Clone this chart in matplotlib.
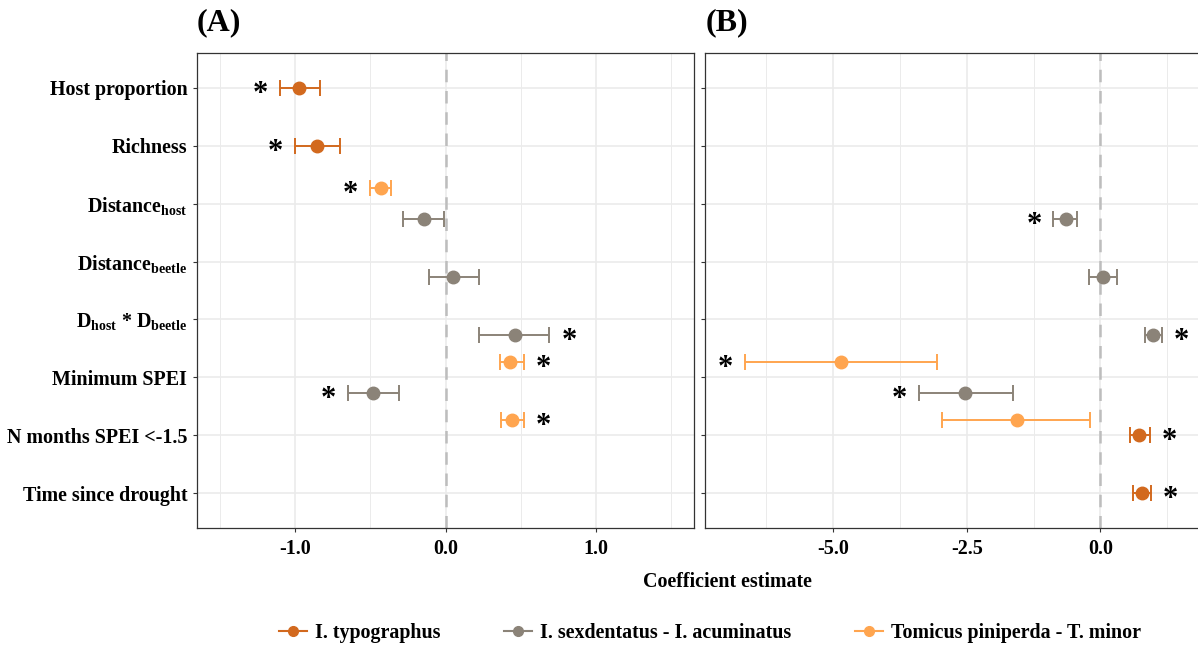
import matplotlib
matplotlib.use("Agg")
import matplotlib.pyplot as plt
from matplotlib.lines import Line2D

# model terms, top to bottom
terms = ["Host proportion", "Richness", r"Distance$_{\mathrm{host}}$",
         r"Distance$_{\mathrm{beetle}}$",
         r"D$_{\mathrm{host}}$ * D$_{\mathrm{beetle}}$", "Minimum SPEI",
         "N months SPEI <-1.5", "Time since drought"]
species = ["I. typographus", "I. sexdentatus - I. acuminatus",
           "Tomicus piniperda - T. minor"]
colors = ["#D2691E", "#8B8378", "#FFA54F"]
dodge = [0.0, 0.27, -0.27]

# (A) coefficient estimates with 95% CI
a_term = [0, 1, 2, 2, 3, 4, 5, 5, 6]
a_sp = [0, 0, 2, 1, 1, 1, 2, 1, 2]
a_est = [-0.97, -0.85, -0.43, -0.14, 0.05, 0.46, 0.43, -0.48, 0.44]
a_lo = [-1.10, -1.00, -0.50, -0.28, -0.11, 0.22, 0.36, -0.65, 0.37]
a_hi = [-0.83, -0.70, -0.36, -0.01, 0.22, 0.69, 0.52, -0.31, 0.52]
a_sig = [1, 1, 1, 0, 0, 1, 1, 1, 1]

# (B)
b_term = [2, 3, 4, 5, 5, 6, 6, 7]
b_sp = [1, 1, 1, 2, 1, 2, 0, 0]
b_est = [-0.65, 0.05, 0.99, -4.86, -2.53, -1.57, 0.73, 0.77]
b_lo = [-0.88, -0.21, 0.83, -6.66, -3.40, -2.96, 0.56, 0.61]
b_hi = [-0.43, 0.31, 1.15, -3.06, -1.64, -0.20, 0.92, 0.95]
b_sig = [1, 0, 1, 1, 1, 0, 1, 1]

plt.rcParams["font.family"] = ["Liberation Serif", "DejaVu Serif"]
plt.rcParams["font.weight"] = "bold"
plt.rcParams["mathtext.fontset"] = "custom"
plt.rcParams["mathtext.rm"] = "Liberation Serif:bold"
plt.rcParams["mathtext.it"] = "Liberation Serif:bold"
plt.rcParams["mathtext.bf"] = "Liberation Serif:bold"

FS = 14.4
W, H = 1198, 645
fig = plt.figure(figsize=(W / 100, H / 100), dpi=100)
axA = fig.add_axes([197 / W, 1 - 528 / H, (694 - 197) / W, 475 / H])
axB = fig.add_axes([705 / W, 1 - 528 / H, (1202 - 705) / W, 475 / H])


def panel(ax, term, sp, est, lo, hi, sig, xlim, major, minor):
    ax.set_xlim(*xlim)
    ax.set_ylim(len(terms) - 0.4, -0.6)
    ax.set_xticks(major)
    ax.set_xticks(minor, minor=True)
    ax.set_yticks(range(len(terms)))
    ax.grid(which="major", color="#EBEBEB", lw=1.2, zorder=0)
    ax.grid(which="minor", axis="x", color="#EBEBEB", lw=0.7, zorder=0)
    ax.set_axisbelow(True)
    ax.axvline(0, color="#BDBDBD", lw=1.8, ls=(0, (5, 3.5)), zorder=1)
    for t, s, e, l, h, g in zip(term, sp, est, lo, hi, sig):
        y = t + dodge[s]
        ax.errorbar(e, y, xerr=[[e - l], [h - e]], fmt="o", color=colors[s],
                    ms=9, elinewidth=1.4, capsize=5.8, capthick=1.4, zorder=3)
        if g:
            x_end, dx = (l, -14) if e < 0 else (h, 14)
            ax.annotate("*", (x_end, y), xytext=(dx, -10),
                        textcoords="offset points", ha="center", va="baseline",
                        fontsize=22, fontweight="bold", color="black")
    for sp_ in ax.spines.values():
        sp_.set_color("#333333")
        sp_.set_linewidth(0.9)
    ax.tick_params(axis="both", which="major", length=3, width=0.8,
                   color="#333333", labelsize=FS, pad=5)
    ax.tick_params(axis="x", which="minor", length=0)


panel(axA, a_term, a_sp, a_est, a_lo, a_hi, a_sig, (-1.65, 1.65),
      [-1.0, 0.0, 1.0], [-1.5, -0.5, 0.5, 1.5])
panel(axB, b_term, b_sp, b_est, b_lo, b_hi, b_sig, (-7.40, 1.90),
      [-5.0, -2.5, 0.0], [-6.25, -3.75, -1.25, 1.25])

axA.set_yticklabels(terms)
axA.tick_params(axis="y", pad=4)
axB.set_yticklabels([])
axA.xaxis.set_major_formatter(matplotlib.ticker.FormatStrFormatter("%.1f"))
axB.xaxis.set_major_formatter(matplotlib.ticker.FormatStrFormatter("%.1f"))

fig.text(197 / W, 1 - 23 / H, "(A)", fontsize=23, fontweight="bold", va="center")
fig.text(706 / W, 1 - 23 / H, "(B)", fontsize=23, fontweight="bold", va="center")
fig.text(727 / W, 1 - 582 / H, "Coefficient estimate", fontsize=FS,
         fontweight="bold", ha="center", va="center")

handles = [Line2D([], [], color=c, marker="o", ms=7, lw=1.5) for c in colors]
fig.legend(handles, species, loc="center", bbox_to_anchor=(710 / W, 1 - 633 / H),
           ncol=3, frameon=False, fontsize=FS, handlelength=1.4,
           handletextpad=0.4, columnspacing=3.2)

fig.savefig("out.png", dpi=100)
